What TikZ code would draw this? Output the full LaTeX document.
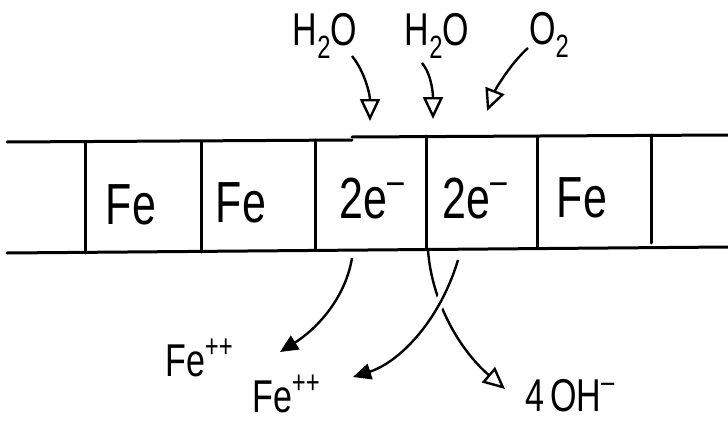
\documentclass[tikz,border=0pt]{standalone}
\usepackage{fontspec}
\setmainfont{Liberation Sans}
\usepackage{graphicx}
\usetikzlibrary{arrows.meta}
\tikzset{
  wall/.style={line width=3pt, line cap=round},
  flow/.style={line width=2.4pt},
  openhead/.style={-{Triangle[open,length=22pt,width=20pt,line width=2.4pt]}},
  fillhead/.style={-{Triangle[length=18pt,width=16pt]}},
  big/.style={font=\fontsize{58}{58}\selectfont, inner sep=0pt},
  mid/.style={font=\fontsize{46}{46}\selectfont, inner sep=0pt},
}
\newcommand\narrowtxt[1]{\scalebox{0.74}[1]{#1}}
\newcommand\upidx[1]{\raisebox{0.42em}{\scalebox{0.7}{#1}}}
\newcommand\lowidx[1]{\raisebox{-0.28em}{\scalebox{0.7}{#1}}}
\begin{document}
\begin{tikzpicture}[x=1pt,y=-1pt]
\useasboundingbox (0,0) rectangle (728,423);
% strip walls
\draw[wall] (7,142) -- (352,140);
\draw[wall] (352,137) -- (728,135);
\draw[wall] (7,253) -- (728,247);
\draw[wall] (85,142) -- (85,253);
\draw[wall] (201,141) -- (201,252);
\draw[wall] (315,140) -- (315,250);
\draw[wall] (426,136) -- (426,248);
\draw[wall] (537,136) -- (537,247);
\draw[wall] (651,135) -- (651,243);
% cell texts
\node[big] (fe1) at (131,205) {\narrowtxt{Fe}};
\node[big] (fe2) at (241,203) {\narrowtxt{Fe}};
\node[big] (el1) at (372,199) {\narrowtxt{2e\upidx{--}}};
\node[big] (el2) at (475,199) {\narrowtxt{2e\upidx{--}}};
\node[big] (fe3) at (582,198) {\narrowtxt{Fe}};
% top labels
\node[mid] (w1) at (325,36) {\narrowtxt{H\lowidx{2}O}};
\node[mid] (w2) at (437,36) {\narrowtxt{H\lowidx{2}O}};
\node[mid] (ox) at (549,35) {\narrowtxt{O\lowidx{2}}};
% bottom labels
\node[mid] (fp1) at (199,358) {\narrowtxt{Fe\upidx{++}}};
\node[mid] (fp2) at (286,394) {\narrowtxt{Fe\upidx{++}}};
\node[mid] (oh) at (570,396) {\narrowtxt{4\,OH\upidx{--}}};
% arrow end points
\coordinate (t1) at (370,121);
\coordinate (t2) at (433,119);
\coordinate (t3) at (487,111);
\coordinate (w1s) at (352,56);
\coordinate (w2s) at (422,63);
\coordinate (oxs) at (528,48);
\coordinate (s1) at (352,258);
\coordinate (s2) at (458,260);
\coordinate (s3) at (428,250);
\coordinate (e1) at (280,352);
\coordinate (e2) at (353,377);
\coordinate (e3) at (505,389);
% top arrows
\draw[flow,openhead] (w1s) .. controls (365,72) and (370,95) .. (t1);
\draw[flow,openhead] (w2s) .. controls (432,75) and (433,95) .. (t2);
\draw[flow,openhead] (oxs) .. controls (512,62) and (496,88) .. (t3);
% bottom arrows
\draw[flow,fillhead] (s1) .. controls (345,300) and (315,330) .. (e1);
\draw[flow,openhead] (s3) .. controls (432,305) and (462,352) .. (e3);
\draw[flow,fillhead,preaction={draw=white,line width=10pt,-}] (s2) .. controls (440,320) and (400,362) .. (e2);
\end{tikzpicture}
\end{document}
